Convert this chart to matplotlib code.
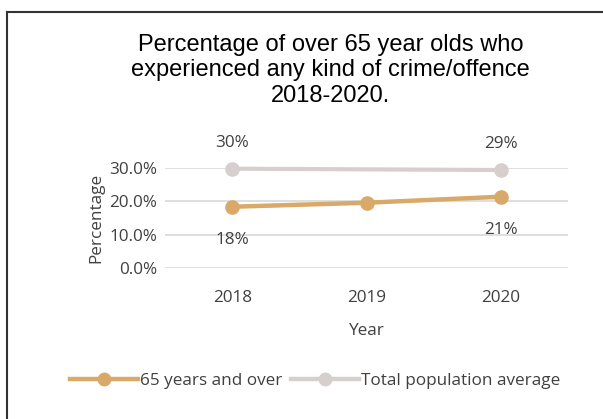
import matplotlib.pyplot as plt
from matplotlib.lines import Line2D

# survey results, percent of people who experienced crime
years = ['2018', '2019', '2020']
over_65 = [18.4, 19.6, 21.4]
total_years = ['2018', '2020']
total_avg = [29.8, 29.4]

over_65_labels = {'2018': '18%', '2020': '21%'}
total_labels = {'2018': '30%', '2020': '29%'}

orange = '#D9A96A'
grey = '#D6CFCE'
text_col = '#404040'
tick_font = 'Open Sans'
fs = 12.3

fig = plt.figure(figsize=(6.03, 4.19), dpi=100)
ax = fig.add_axes([0.274, 0.360, 0.668, 0.239])

x_pos = {y: i for i, y in enumerate(years)}

ax.plot([x_pos[y] for y in total_years], total_avg, color=grey, lw=3,
        marker='o', ms=9.5, clip_on=False, zorder=3)
ax.plot([x_pos[y] for y in years], over_65, color=orange, lw=3.2,
        marker='o', ms=9.5, clip_on=False, zorder=4)

# value labels
for y, v in zip(total_years, total_avg):
    ax.annotate(total_labels[y], (x_pos[y], v), xytext=(0, 13),
                textcoords='offset points', ha='center', va='bottom',
                fontsize=fs, color=text_col, family=tick_font)
for y, v in zip(years, over_65):
    if y in over_65_labels:
        ax.annotate(over_65_labels[y], (x_pos[y], v), xytext=(0, -18),
                    textcoords='offset points', ha='center', va='top',
                    fontsize=fs, color=text_col, family=tick_font)

ax.set_xlim(-0.5, 2.5)
ax.set_ylim(0, 30)
ax.set_yticks([0, 10, 20, 30])
ax.set_yticklabels(['0.0%', '10.0%', '20.0%', '30.0%'])
ax.set_xticks(range(len(years)))
ax.set_xticklabels(years)
ax.grid(axis='y', color='#D9D9D9', lw=1.2)
ax.set_axisbelow(True)
for s in ax.spines.values():
    s.set_visible(False)
ax.tick_params(length=0, labelsize=fs, labelcolor=text_col, pad=6)
ax.tick_params(axis='x', pad=16)
for lbl in ax.get_xticklabels() + ax.get_yticklabels():
    lbl.set_family(tick_font)

ax.set_xlabel('Year', fontsize=fs, color=text_col, family=tick_font, labelpad=12)
ax.set_ylabel('Percentage', fontsize=fs, color=text_col, family=tick_font, labelpad=3)

fig.text(0.548, 0.92, 'Percentage of over 65 year olds who\n'
         'experienced any kind of crime/offence\n2018-2020.',
         ha='center', va='top', fontsize=17, family='Liberation Sans',
         color='black', linespacing=1.22)

handles = [Line2D([], [], color=orange, lw=3.2, marker='o', ms=9),
           Line2D([], [], color=grey, lw=3.2, marker='o', ms=9)]
fig.legend(handles, ['65 years and over', 'Total population average'],
           loc='center', bbox_to_anchor=(0.522, 0.09), ncol=2, frameon=False,
           handlelength=4, handletextpad=0.1, columnspacing=0.5,
           prop={'family': tick_font, 'size': fs}, labelcolor=text_col)

# outline on top and left
fig.add_artist(Line2D([7 / 603, 1], [1 - 12 / 419] * 2, color='#333333', lw=1.5))
fig.add_artist(Line2D([7 / 603] * 2, [0, 1 - 12 / 419], color='#333333', lw=1.5))

fig.savefig('out.png', dpi=100)
